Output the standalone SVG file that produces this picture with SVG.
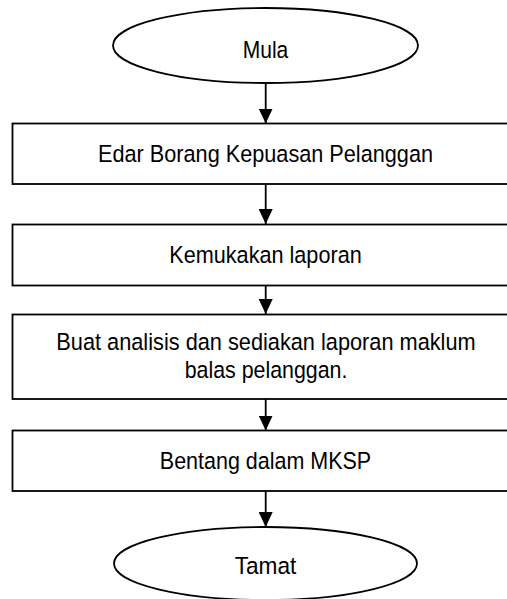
<svg xmlns="http://www.w3.org/2000/svg" width="507" height="599" viewBox="0 0 507 599">
<defs>
<style>
.shape{fill:#fff;stroke:#000;stroke-width:1.8}
.conn{stroke:#000;stroke-width:1.8;fill:none}
.lbl{font-family:"Liberation Sans",Arial,sans-serif;font-size:24.5px;fill:#000;text-anchor:middle}
</style>
<marker id="arr" viewBox="0 0 15 14" refX="15" refY="7" markerWidth="15" markerHeight="14" markerUnits="userSpaceOnUse" orient="auto">
<path d="M0,0 L15,7 L0,14 Z" fill="#000"/>
</marker>
</defs>
<rect width="507" height="599" fill="#fff"/>
<g id="connectors">
<line class="conn" x1="265.7" y1="83" x2="265.7" y2="123.5" marker-end="url(#arr)"/>
<line class="conn" x1="265.7" y1="184" x2="265.7" y2="224" marker-end="url(#arr)"/>
<line class="conn" x1="265.7" y1="285.5" x2="265.7" y2="314" marker-end="url(#arr)"/>
<line class="conn" x1="265.7" y1="399" x2="265.7" y2="430.5" marker-end="url(#arr)"/>
<line class="conn" x1="265.7" y1="491" x2="265.7" y2="527" marker-end="url(#arr)"/>
</g>
<g id="mula">
<ellipse class="shape" cx="265.5" cy="45.5" rx="152.5" ry="37.5"/>
<text class="lbl" x="265.5" y="57.5" textLength="45.6" lengthAdjust="spacingAndGlyphs">Mula</text>
</g>
<g id="edar">
<rect class="shape" x="12.5" y="123.5" width="506" height="60.5"/>
<text class="lbl" x="265.5" y="162" textLength="335" lengthAdjust="spacingAndGlyphs">Edar Borang Kepuasan Pelanggan</text>
</g>
<g id="kemukakan">
<rect class="shape" x="12.5" y="224.5" width="506" height="61"/>
<text class="lbl" x="265.5" y="262.5" textLength="192.4" lengthAdjust="spacingAndGlyphs">Kemukakan laporan</text>
</g>
<g id="analisis">
<rect class="shape" x="12.5" y="314.5" width="506" height="84.5"/>
<text class="lbl" x="266" y="349.5" textLength="419.3" lengthAdjust="spacingAndGlyphs">Buat analisis dan sediakan laporan maklum</text>
<text class="lbl" x="266" y="377.5" textLength="162.7" lengthAdjust="spacingAndGlyphs">balas pelanggan.</text>
</g>
<g id="bentang">
<rect class="shape" x="12.5" y="430.5" width="506" height="60.5"/>
<text class="lbl" x="265.5" y="469" textLength="211.3" lengthAdjust="spacingAndGlyphs">Bentang dalam MKSP</text>
</g>
<g id="tamat">
<ellipse class="shape" cx="265.5" cy="563.5" rx="151.5" ry="36.5"/>
<text class="lbl" x="265.5" y="573.5" textLength="61.7" lengthAdjust="spacingAndGlyphs">Tamat</text>
</g>
</svg>
